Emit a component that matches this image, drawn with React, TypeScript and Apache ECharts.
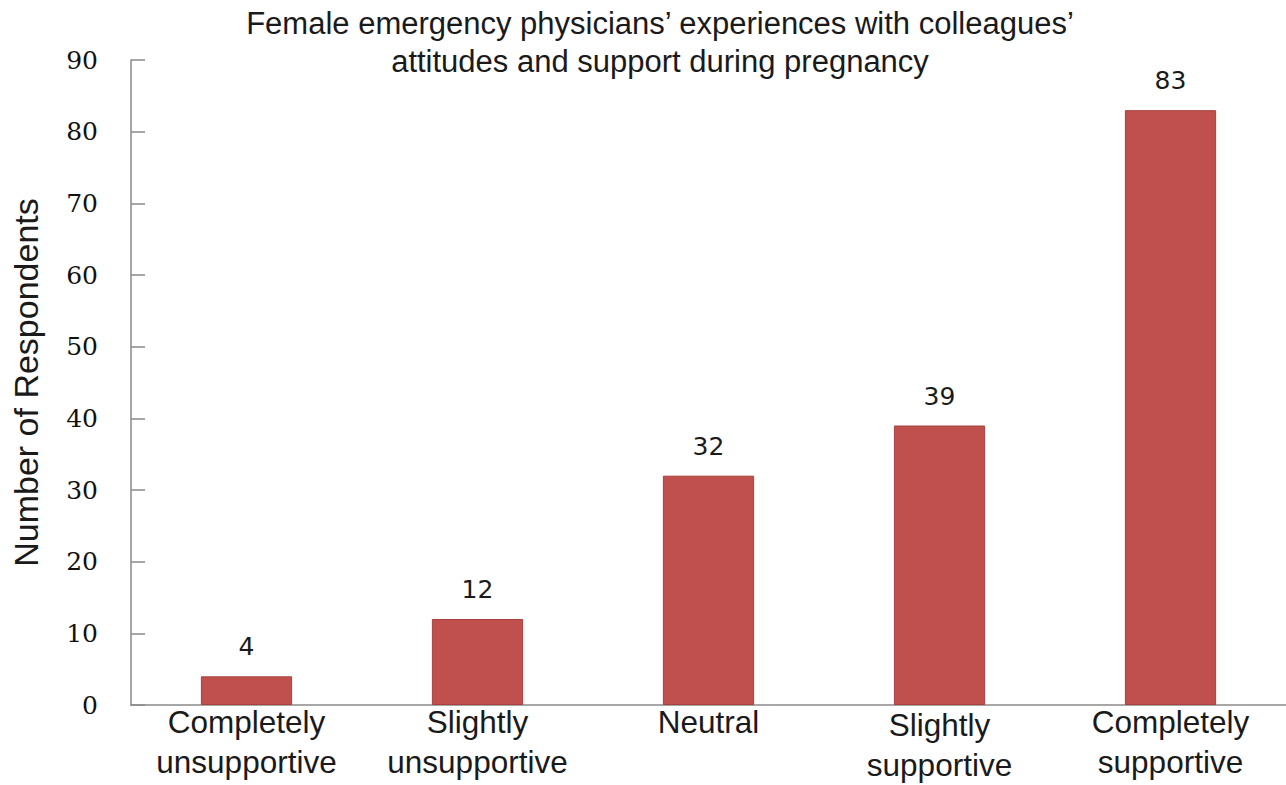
import React, { useEffect, useRef } from "react";
import * as echarts from "echarts";

const titleLines = [
  "Female emergency physicians\u2019 experiences with colleagues\u2019",
  "attitudes and support during pregnancy",
];
const categories = [
  "Completely\nunsupportive",
  "Slightly\nunsupportive",
  "Neutral",
  "Slightly\nsupportive",
  "Completely\nsupportive",
];
const values = [4, 12, 32, 39, 83];
const yAxisName = "Number of Respondents";
const yMin = 0;
const yMax = 90;
const yInterval = 10;

export default function App() {
  const ref = useRef<HTMLDivElement>(null);
  useEffect(() => {
    document.body.style.margin = "0";
    if (!ref.current) return;
    const chart = echarts.init(ref.current, undefined, { renderer: "svg" });
    chart.setOption({
      animation: false,
      backgroundColor: "#ffffff",
      title: {
        text: titleLines.join("\n"),
        left: 655,
        top: 4,
        padding: [0, 5, 5, 5],
        textAlign: "center",
        textStyle: {
          fontFamily: "Liberation Sans, Arial, sans-serif",
          fontSize: 31,
          fontWeight: "normal",
          color: "#1a1a1a",
          lineHeight: 38,
        },
      },
      grid: {
        left: 131,
        right: 0,
        top: 60,
        bottom: 80,
        containLabel: false,
        outerBoundsMode: "none",
      },
      xAxis: {
        type: "category",
        data: categories.map((c, i) =>
          i === 3 ? { value: c, textStyle: { padding: [3, 0, 0, 0] } } : c
        ),
        axisLine: { show: true, lineStyle: { color: "#8a8a8a", width: 1.5 } },
        axisTick: { show: false },
        axisLabel: {
          interval: 0,
          margin: -3,
          fontFamily: "Liberation Sans, Arial, sans-serif",
          fontSize: 31.5,
          lineHeight: 40,
          color: "#1a1a1a",
        },
      },
      yAxis: {
        type: "value",
        min: yMin,
        max: yMax,
        interval: yInterval,
        name: yAxisName,
        nameLocation: "middle",
        nameGap: 88,
        nameRotate: 90,
        nameTextStyle: {
          fontFamily: "Liberation Sans, Arial, sans-serif",
          fontSize: 34,
          color: "#1a1a1a",
        },
        axisLine: { show: true, lineStyle: { color: "#8a8a8a", width: 1.5 } },
        axisTick: {
          show: true,
          inside: true,
          length: 14,
          lineStyle: { color: "#8a8a8a", width: 1.5 },
        },
        splitLine: { show: false },
        axisLabel: {
          margin: 33,
          fontFamily: "DejaVu Serif, Liberation Serif, serif",
          fontSize: 25,
          color: "#111111",
        },
      },
      series: [
        {
          type: "bar",
          data: values,
          barWidth: "39.5%",
          itemStyle: { color: "#C0504D", borderColor: "#A8403D", borderWidth: 1 },
          label: {
            show: true,
            position: "top",
            distance: 17,
            fontFamily: "DejaVu Sans, Verdana, sans-serif",
            fontSize: 25,
            color: "#1a1a1a",
          },
        },
      ],
    });
    return () => chart.dispose();
  }, []);
  return <div ref={ref} style={{ width: 1286, height: 785 }} />;
}
